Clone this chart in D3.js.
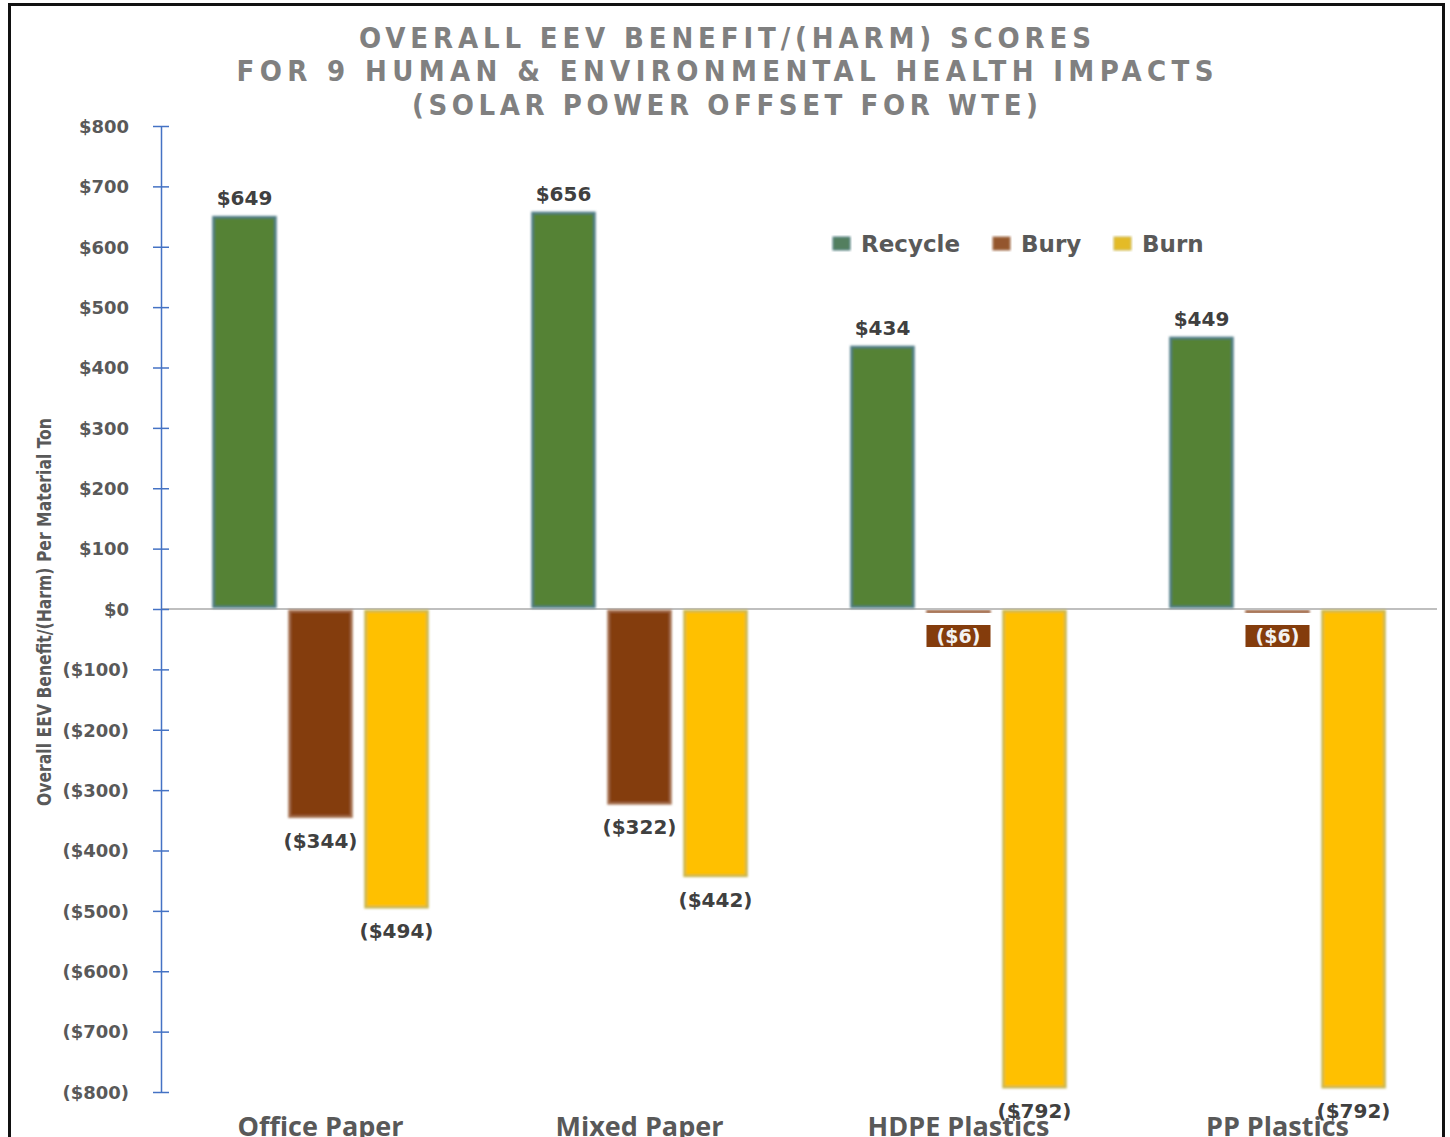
<!DOCTYPE html>
<html>
<head>
<meta charset="utf-8">
<script src="https://cdn.jsdelivr.net/npm/d3@7"></script>
<style>
  html, body { margin: 0; padding: 0; background: #ffffff; }
  svg { display: block; }
</style>
</head>
<body>
<script>
// Chart data
const categories = ["Office Paper", "Mixed Paper", "HDPE Plastics", "PP Plastics"];
const seriesNames = ["Recycle", "Bury", "Burn"];
const recycleValues = [649, 656, 434, 449];
const buryValues = [-344, -322, -6, -6];
const burnValues = [-494, -442, -792, -792];
const yTicks = [800, 700, 600, 500, 400, 300, 200, 100, 0, -100, -200, -300, -400, -500, -600, -700, -800];
const titleLines = [
  "OVERALL EEV BENEFIT/(HARM) SCORES",
  "FOR 9 HUMAN & ENVIRONMENTAL HEALTH IMPACTS",
  "(SOLAR POWER OFFSET FOR WTE)"
];
const yAxisTitle = "Overall EEV Benefit/(Harm) Per Material Ton";

const seriesValues = { Recycle: recycleValues, Bury: buryValues, Burn: burnValues };
const fills = { Recycle: "#548235", Bury: "#843c0c", Burn: "#ffc000" };
const edges = { Recycle: "#4f7c86", Bury: "#a4704f", Burn: "#c8b650" };

const W = 1450, H = 1137;
const svg = d3.select("body").append("svg").attr("width", W).attr("height", H);

const defs = svg.append("defs");
defs.append("filter").attr("id", "soft")
  .attr("x", "-10%").attr("y", "-10%").attr("width", "120%").attr("height", "120%")
  .append("feGaussianBlur").attr("stdDeviation", 1.2);

// Frame
svg.append("rect").attr("x", 9.5).attr("y", 4.5).attr("width", 1434).attr("height", 1140)
  .attr("fill", "none").attr("stroke", "#111").attr("stroke-width", 3);

// Scales
const y = d3.scaleLinear().domain([-800, 800]).range([1092, 126]);
const x0 = d3.scaleBand().domain(categories).range([161, 1437])
  .paddingInner(0.285).paddingOuter(0.1425);
const x1 = d3.scaleBand().domain(seriesNames).range([0, x0.bandwidth()])
  .paddingInner(0.158).paddingOuter(0.079);

// Title: condensed caps with wide tracking
const title = svg.append("g")
  .attr("font-family", "'DejaVu Sans Condensed', 'DejaVu Sans', sans-serif")
  .attr("font-weight", 700)
  .attr("font-size", 29)
  .attr("fill", "#808080")
  .attr("text-anchor", "middle");
const titleY = [48, 81, 115];
const titleW = [732, 977, 626];
titleLines.forEach((t, i) => {
  title.append("text").attr("x", 725).attr("y", titleY[i])
    .attr("textLength", titleW[i]).attr("lengthAdjust", "spacing")
    .text(t);
});

// Zero baseline
svg.append("line")
  .attr("x1", 161).attr("x2", 1437).attr("y1", y(0)).attr("y2", y(0))
  .attr("stroke", "#bfbfbf").attr("stroke-width", 2);

// Bars
const groups = svg.append("g").selectAll("g").data(categories).join("g")
  .attr("transform", d => `translate(${x0(d)},0)`);

seriesNames.forEach(s => {
  groups.append("rect")
    .attr("x", x1(s) + 1)
    .attr("width", x1.bandwidth() - 2)
    .attr("y", (d, i) => y(Math.max(0, seriesValues[s][i])) + (seriesValues[s][i] < 0 ? 2 : 0))
    .attr("height", (d, i) => Math.max(1, Math.abs(y(seriesValues[s][i]) - y(0)) - 2))
    .attr("fill", fills[s])
    .attr("stroke", edges[s])
    .attr("stroke-width", 2.5)
    .attr("filter", "url(#soft)");
});

// Value labels
const fmt = v => v < 0 ? `($${Math.abs(v)})` : `$${v}`;
seriesNames.forEach(s => {
  groups.each(function (d, i) {
    const v = seriesValues[s][i];
    const g = d3.select(this);
    const cx = x1(s) + x1.bandwidth() / 2;
    if (Math.abs(v) < 20) {
      // small value: boxed label under the bar
      g.append("rect").attr("x", x1(s)).attr("y", y(0) + 16)
        .attr("width", x1.bandwidth()).attr("height", 22)
        .attr("fill", fills[s]);
      g.append("text").attr("x", cx).attr("y", y(0) + 34)
        .attr("text-anchor", "middle")
        .attr("font-family", "'DejaVu Sans', sans-serif").attr("font-weight", 700)
        .attr("font-size", 19).attr("fill", "#f2f2f2").text(fmt(v));
    } else {
      g.append("text").attr("x", cx)
        .attr("y", v >= 0 ? y(v) - 12 : y(v) + 31)
        .attr("text-anchor", "middle")
        .attr("font-family", "'DejaVu Sans', sans-serif").attr("font-weight", 700)
        .attr("font-size", 20).attr("fill", "#404040").text(fmt(v));
    }
  });
});

// Y axis
const yAxis = d3.axisLeft(y).tickValues(yTicks).tickSize(0)
  .tickFormat(v => v < 0 ? `($${Math.abs(v)})` : `$${v}`);
const ya = svg.append("g").attr("transform", "translate(161,0)").call(yAxis);
ya.select(".domain").attr("stroke", "#4472c4").attr("stroke-width", 1.5);
ya.selectAll(".tick line").remove();
ya.selectAll(".tick").append("line")
  .attr("x1", -8).attr("x2", 8).attr("stroke", "#4472c4").attr("stroke-width", 1.5);
ya.selectAll(".tick text")
  .attr("x", -32).attr("dy", "0.35em")
  .attr("font-family", "'DejaVu Sans', sans-serif").attr("font-weight", 700)
  .attr("font-size", 18).attr("fill", "#595959");

// Y axis title
svg.append("text")
  .attr("transform", "translate(51,612) rotate(-90)")
  .attr("text-anchor", "middle")
  .attr("font-family", "'DejaVu Sans Condensed', 'DejaVu Sans', sans-serif")
  .attr("font-weight", 700).attr("font-size", 20).attr("fill", "#595959")
  .attr("textLength", 388).attr("lengthAdjust", "spacingAndGlyphs")
  .text(yAxisTitle);

// Category labels
svg.append("g").selectAll("text").data(categories).join("text")
  .attr("x", d => x0(d) + x0.bandwidth() / 2)
  .attr("y", 1136)
  .attr("text-anchor", "middle")
  .attr("font-family", "'Open Sans', sans-serif").attr("font-weight", 700)
  .attr("font-size", 27).attr("fill", "#595959")
  .text(d => d);

// Legend
const legendX = [833, 993, 1114];
const legend = svg.append("g");
seriesNames.forEach((s, i) => {
  legend.append("rect").attr("x", legendX[i]).attr("y", 237)
    .attr("width", 17).attr("height", 13)
    .attr("fill", d3.interpolateRgb(fills[s], edges[s])(0.5))
    .attr("stroke", edges[s]).attr("stroke-width", 1)
    .attr("filter", "url(#soft)");
  legend.append("text").attr("x", legendX[i] + 28).attr("y", 252)
    .attr("font-family", "'DejaVu Sans', sans-serif").attr("font-weight", 700)
    .attr("font-size", 23).attr("fill", "#595959")
    .text(s);
});
</script>
</body>
</html>
